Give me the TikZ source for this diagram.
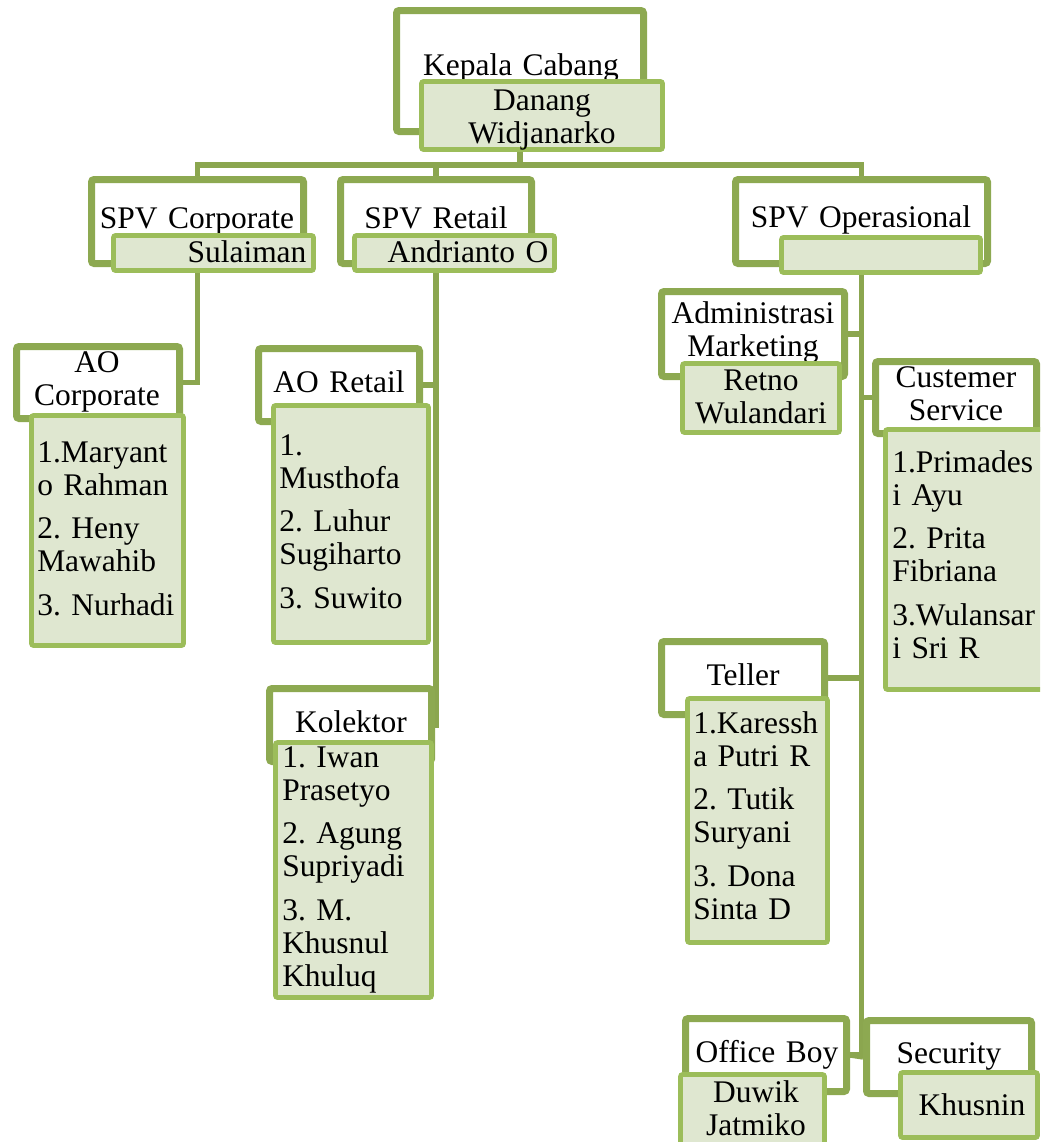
\documentclass[tikz,border=0pt]{standalone}
\usepackage{fontspec}
\setmainfont{Liberation Serif}
\frenchspacing
\usetikzlibrary{backgrounds,shadows}
\definecolor{obord}{HTML}{8DA951}
\definecolor{ibord}{HTML}{9CBD5A}
\definecolor{ifill}{HTML}{DFE7D0}
\definecolor{conn}{HTML}{8BA64F}
\tikzset{
  obox/.style={draw=obord, line width=5.25pt, fill=white, rounded corners=2pt, inner sep=0pt,
    drop shadow={shadow xshift=-1pt, shadow yshift=-2pt, opacity=0.22, fill=black}},
  ibox/.style={draw=ibord, line width=3.5pt, fill=ifill, rounded corners=1.5pt, inner sep=0pt},
  ttl/.style={font=\fontsize{23.6}{24.75}\selectfont\frenchspacing, inner sep=0pt, anchor=base, align=center, text width=200pt},
  lst/.style={font=\fontsize{23.6}{24.75}\selectfont\frenchspacing, inner sep=0pt, anchor=base west, align=left, text width=130pt},
  link/.style={draw=conn, line width=4pt}
}
\newcommand\mkbox[7]{\node[#1, minimum width={(#5-#3-#7)*0.75pt}, minimum height={(#6-#4-#7)*0.75pt}] (#2) at ({(#3+#5)/2},{(#4+#6)/2}) {};}
\begin{document}
\begin{tikzpicture}[x=0.75pt,y=-0.75pt]
\useasboundingbox (0,0) rectangle (1040,1142);
\clip (0,0) rectangle (1040,1142);
% ---------- outer (title) boxes ----------
\mkbox{obox}{kc}{393}{7}{647}{135}{7}
\mkbox{obox}{spvc}{88}{176}{307}{267}{7}
\mkbox{obox}{spvr}{337}{176}{535}{267}{7}
\mkbox{obox}{spvo}{732}{176}{991}{267}{7}
\mkbox{obox}{aoc}{13}{343}{183}{422}{7}
\mkbox{obox}{aor}{255}{345}{423}{425}{7}
\mkbox{obox}{kol}{266}{685}{435}{765}{7}
\mkbox{obox}{adm}{658}{288}{848}{380}{7}
\mkbox{obox}{cs}{872}{358}{1040}{437}{7}
\mkbox{obox}{tel}{658}{638}{828}{718}{7}
\mkbox{obox}{ob}{682}{1015}{850}{1095}{7}
\mkbox{obox}{sec}{863}{1017}{1035}{1097}{7}
% ---------- titles ----------
\node[ttl] (tkc) at (521,75) {Kepala Cabang};
\node[ttl] (tspvc) at (197,228) {SPV Corporate};
\node[ttl] (tspvr) at (436,228) {SPV Retail};
\node[ttl] (tspvo) at (861,227) {SPV Operasional};
\node[ttl] (taoc) at (97,372) {AO\\Corporate};
\node[ttl] (taor) at (339,392) {AO Retail};
\node[ttl] (tkol) at (351,732) {Kolektor};
\node[ttl] (tadm) at (753,323) {Administrasi\\Marketing};
\node[ttl] (tcs) at (956,387) {Custemer\\Service};
\node[ttl] (ttel) at (743,685) {Teller};
\node[ttl] (tob) at (767,1062) {Office Boy};
\node[ttl] (tsec) at (949,1063) {Security};
% ---------- inner (name) boxes ----------
\mkbox{ibox}{kci}{419}{79}{665}{152}{5}
\mkbox{ibox}{spvci}{111}{233}{316}{273}{5}
\mkbox{ibox}{spvri}{352}{233}{557}{273}{5}
\mkbox{ibox}{spvoi}{779}{235}{983}{275}{5}
\mkbox{ibox}{aoci}{29}{413}{186}{648}{5}
\mkbox{ibox}{aori}{271}{403}{431}{645}{5}
\mkbox{ibox}{koli}{273}{740}{434}{1000}{5}
\mkbox{ibox}{admi}{680}{361}{842}{435}{5}
\mkbox{ibox}{csi}{883}{427}{1052}{692}{5}
\mkbox{ibox}{teli}{685}{696}{830}{945}{5}
\mkbox{ibox}{obi}{678}{1072}{827}{1152}{5}
\mkbox{ibox}{seci}{898}{1070}{1040}{1140}{5}
% ---------- names ----------
\node[ttl] (nkc) at (542,110) {Danang\\Widjanarko};
\node[ttl] (nspvc) at (247,262) {Sulaiman};
\node[ttl] (nspvr) at (468,262) {Andrianto O};
\node[lst] (naoc) at (37,462) {1.Maryant\\o Rahman\\[8pt]2. Heny\\Mawahib\\[8pt]3. Nurhadi};
\node[lst] (naor) at (279,455) {1.\\Musthofa\\[8pt]2. Luhur\\Sugiharto\\[8pt]3. Suwito};
\node[lst] (nkol) at (282,767) {1. Iwan\\Prasetyo\\[8pt]2. Agung\\Supriyadi\\[8pt]3. M.\\Khusnul\\Khuluq};
\node[ttl] (nadm) at (761,390) {Retno\\Wulandari};
\node[lst] (ncs) at (892,472) {1.Primades\\i Ayu\\[8pt]2. Prita\\Fibriana\\[8pt]3.Wulansar\\i Sri R};
\node[lst] (ntel) at (693,733) {1.Karessh\\a Putri R\\[8pt]2. Tutik\\Suryani\\[8pt]3. Dona\\Sinta D};
\node[ttl] (nob) at (756,1102) {Duwik\\Jatmiko};
\node[ttl] (nsec) at (972,1115) {Khusnin};
% ---------- connectors ----------
\begin{pgfonlayer}{background}
\coordinate (bus) at (520,165);
\draw[link] (kc.south) -- (kc.south |- bus);
\draw[link] (spvc.north) -- (spvc.north |- bus) -- (spvo.north |- bus) -- (spvo.north);
\draw[link] (spvr.north) -- (spvr.north |- bus);
\draw[link] (spvci.south -| spvc.south) |- (aoc.east);
\draw[link] (spvri.south -| spvr.south) |- (kol.east);
\draw[link] (aor.east) -- (aor.east -| spvr.south);
\draw[link] (spvoi.south -| spvo.south) |- (ob.east);
\draw[link] (adm.east) -- (adm.east -| spvo.south);
\draw[link] (cs.west) -- (cs.west -| spvo.south);
\draw[link] (tel.east) -- (tel.east -| spvo.south);
\draw[link] (sec.west) -- (ob.east);
\end{pgfonlayer}
\end{tikzpicture}
\end{document}
